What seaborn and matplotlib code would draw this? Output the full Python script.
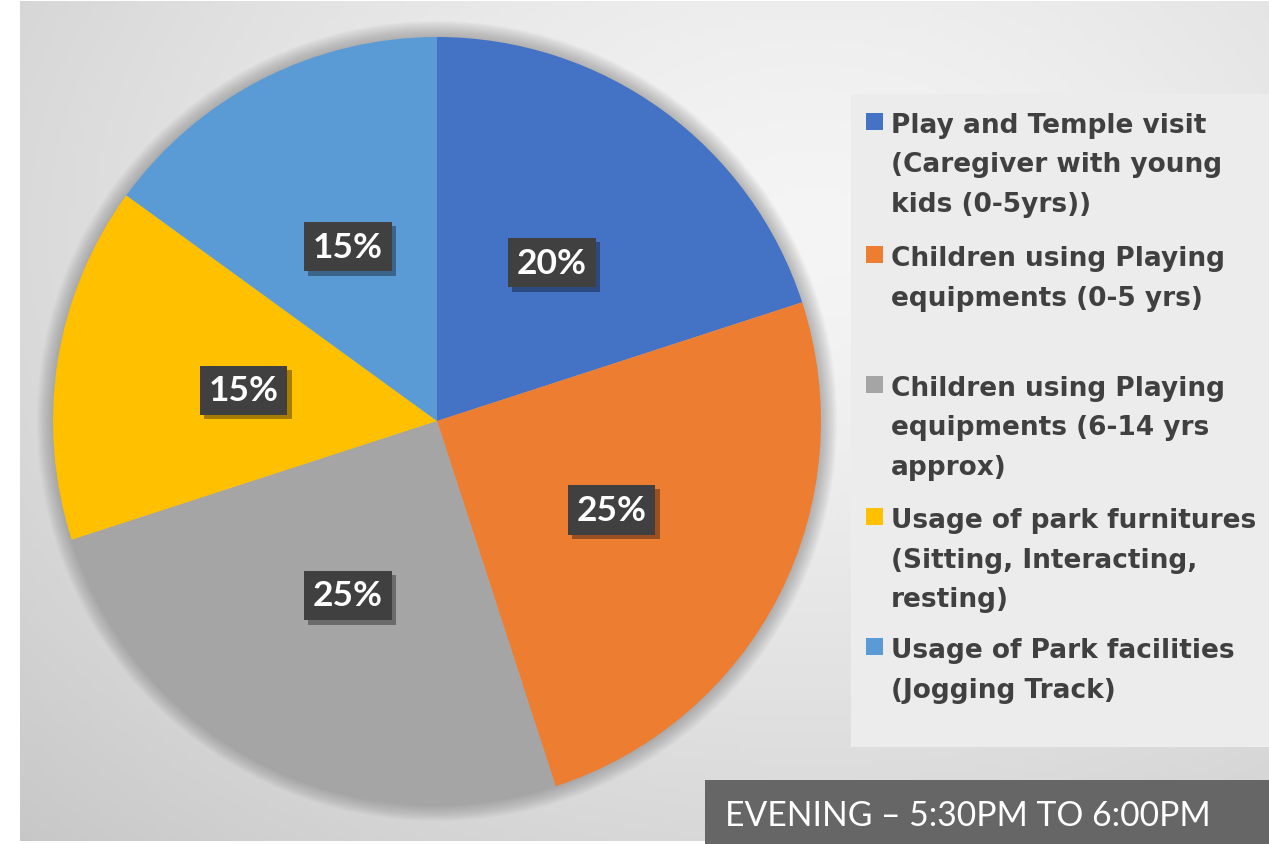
import numpy as np
import matplotlib
matplotlib.use("Agg")
import matplotlib.pyplot as plt
import matplotlib.patheffects as pe
from matplotlib.patches import Rectangle, Circle
import seaborn as sns

categories = [
    "Play and Temple visit\n(Caregiver with young\nkids (0-5yrs))",
    "Children using Playing\nequipments (0-5 yrs)\n",
    "Children using Playing\nequipments (6-14 yrs\napprox)",
    "Usage of park furnitures\n(Sitting, Interacting,\nresting)",
    "Usage of Park facilities\n(Jogging Track)",
]
values = [20, 25, 25, 15, 15]
colors = ["#4472C4", "#ED7D31", "#A5A5A5", "#FFC000", "#5B9BD5"]
title_text = "EVENING \u2013 5:30PM TO 6:00PM"

sns.set_theme(style="white")
plt.rcParams['font.family'] = ['DejaVu Sans']

W, H = 1269, 845
fig = plt.figure(figsize=(W / 100, H / 100), dpi=100)
fig.patch.set_facecolor("white")

def fx(px):
    return px / W

def fy(py):
    return 1 - py / H

# background gradient panel
bg = fig.add_axes([fx(20), fy(842), fx(1269 - 20), (842 - 2) / H])
bg.set_axis_off()
yy, xx = np.mgrid[0:200, 0:300]
cx, cy = 190, 55
d = np.sqrt(((xx - cx) / 260.0) ** 2 + ((yy - cy) / 190.0) ** 2)
shade = 0.96 - 0.165 * np.clip(d, 0, 1.3) ** 1.4
bg.imshow(np.dstack([shade] * 3), aspect="auto", extent=[0, 1, 0, 1], origin="upper")

# pie
cxp, cyp, r = 437, 422, 384
ax = fig.add_axes([fx(cxp - r), fy(cyp + r), 2 * r / W, 2 * r / H])
ax.set_axis_off()
for k in range(14):
    ax.add_patch(Circle((0, 0), 1.0 + 0.003 * (k + 1), color="#6a6a6a",
                        alpha=0.035, lw=0, zorder=0, clip_on=False))
wedges, texts, autotexts = ax.pie(
    values, colors=colors, startangle=90, counterclock=False,
    autopct=lambda p: f"{p:.0f}%", pctdistance=0.51,
    wedgeprops=dict(linewidth=0),
    textprops=dict(color="white", fontsize=25.5, fontweight="bold", family="Lato"),
)
for t in autotexts:
    t.set_bbox(dict(boxstyle="square,pad=0.25", facecolor="#404040", edgecolor="none"))
    t.get_bbox_patch().set_path_effects([
        pe.SimplePatchShadow(offset=(3, -3), shadow_rgbFace="black", alpha=0.35),
        pe.Normal()])
ax.set_xlim(-1, 1)
ax.set_ylim(-1, 1)

# legend panel
fig.patches.append(Rectangle((fx(851), fy(748)), fx(1269 - 851), (748 - 95) / H,
                             transform=fig.transFigure, facecolor="#ececec",
                             edgecolor="none", zorder=1))
line_h = 39.5
starts = [122, 255, 385, 517, 647]
for cat, col, y0 in zip(categories, colors, starts):
    fig.patches.append(Rectangle((fx(866), fy(y0 + 8.5)), fx(17), 17 / H,
                                 transform=fig.transFigure, facecolor=col,
                                 edgecolor="none", zorder=2))
    for i, line in enumerate(cat.split("\n")):
        if line:
            fig.text(fx(891), fy(y0 + i * line_h + 1), line, fontsize=19,
                     fontweight="bold", color="#404040", ha="left", va="center_baseline",
                     zorder=3)

# title box
fig.patches.append(Rectangle((fx(705), 0), fx(1269 - 705), (845 - 781) / H,
                             transform=fig.transFigure, facecolor="#666666",
                             edgecolor="none", zorder=4))
fig.text(fx(725), fy(813), title_text, fontsize=24.2, fontweight="normal",
         family="Lato", color="white", ha="left", va="center_baseline", zorder=5)

fig.savefig("out.png", dpi=100, facecolor=fig.get_facecolor())
